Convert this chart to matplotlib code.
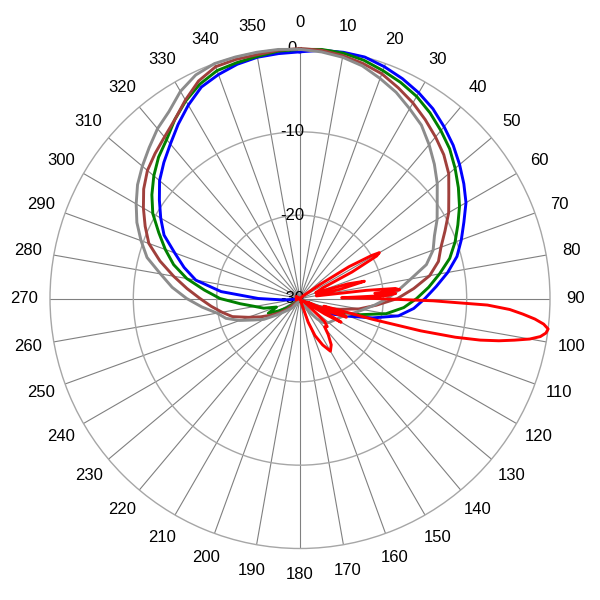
import numpy as np
import matplotlib
matplotlib.use("Agg")
import matplotlib.pyplot as plt
from matplotlib.transforms import offset_copy

plt.rcParams['font.family'] = ['Liberation Sans', 'DejaVu Sans']

# --------- pattern data (dB, angle in degrees clockwise from north) ---------

blue_deg = [0, 5, 10, 15, 20, 25, 30, 35, 40, 45, 50, 55, 60, 65, 70, 75, 80, 85,
            90, 95, 100, 105, 110, 115, 120, 130, 240, 260, 265, 270, 275, 280, 285,
            290, 295, 300, 305, 310, 315, 320, 325, 330, 335, 340, 345, 350, 355]
blue_db = [-0.4, -0.1, 0.0, 0.0, -0.4, -0.9, -1.5, -2.2, -3.1, -4.0, -5.0, -6.0, -7.0,
           -8.3, -9.4, -10.5, -12.0, -13.6, -15.0, -16.3, -18.0, -21.0, -23.8, -25.5,
           -27.0, -29.5, -30.0, -29.5, -28.0, -25.0, -20.5, -17.3, -15.6, -14.0, -12.0,
           -10.7, -9.4, -8.0, -6.9, -5.8, -4.5, -3.2, -2.0, -1.4, -0.9, -0.6, -0.5]

green_deg = [0, 5, 10, 15, 20, 25, 30, 35, 40, 45, 50, 55, 60, 65, 70, 75, 80, 85,
             90, 95, 100, 105, 110, 115, 120, 130, 225, 230, 235, 240, 245, 250, 255,
             260, 265, 270, 275, 280, 285, 290, 295, 300, 305, 310, 315, 320, 325,
             330, 335, 340, 345, 350, 355]
green_db = [-0.1, 0.0, -0.1, -0.4, -0.9, -1.4, -2.0, -2.8, -3.7, -4.6, -5.7, -6.8, -7.9,
            -9.1, -10.2, -11.4, -13.0, -14.5, -16.0, -17.5, -19.5, -22.5, -25.0, -27.0,
            -28.5, -29.5, -29.5, -29.0, -28.0, -27.0, -25.8, -27.0, -25.5, -24.5, -22.8,
            -20.4, -18.5, -16.2, -14.3, -12.8, -11.3, -9.6, -8.3, -7.1, -6.0, -5.1,
            -3.8, -2.6, -1.6, -0.9, -0.7, -0.5, -0.2]

brown_deg = [0, 5, 10, 15, 20, 25, 30, 35, 40, 45, 50, 55, 60, 65, 70, 75, 80, 85,
             90, 95, 100, 105, 110, 115, 120, 130, 220, 230, 235, 240, 245, 250, 255,
             260, 265, 270, 275, 280, 285, 290, 295, 300, 305, 310, 315, 320, 325,
             330, 335, 340, 345, 350, 355]
brown_db = [0.0, -0.1, -0.4, -0.8, -1.3, -2.1, -2.9, -3.8, -4.7, -5.6, -6.7, -8.2, -9.4,
            -10.8, -12.0, -12.8, -14.2, -16.3, -18.3, -20.8, -22.8, -25.0, -26.5, -28.0,
            -29.0, -29.8, -29.5, -28.0, -27.0, -26.0, -24.8, -23.4, -21.6, -20.5, -19.3,
            -18.0, -16.4, -14.6, -12.6, -10.7, -9.5, -8.3, -7.1, -6.1, -5.4, -4.7,
            -3.8, -2.5, -1.2, -0.4, -0.3, -0.3, -0.1]

gray_deg = [0, 5, 10, 15, 20, 25, 30, 35, 40, 45, 50, 55, 60, 65, 70, 75, 80, 85,
            90, 95, 100, 105, 110, 120, 130, 136, 140, 145, 150, 160, 200, 210, 220,
            230, 235, 240, 245, 250, 255, 260, 265, 270, 275, 280, 285, 290, 295,
            300, 305, 310, 315, 320, 325, 330, 335, 340, 345, 350, 355]
gray_db = [-0.1, -0.3, -0.6, -1.1, -1.9, -2.7, -3.7, -4.6, -5.9, -7.2, -8.5, -9.9, -11.0,
           -12.2, -13.0, -14.3, -16.5, -18.1, -19.5, -21.0, -22.3, -23.3, -24.2, -25.0,
           -25.5, -26.0, -26.8, -28.0, -29.0, -29.8, -29.8, -29.5, -28.5, -27.5, -26.5,
           -25.0, -23.9, -22.3, -20.8, -19.9, -18.2, -16.4, -14.6, -13.0, -11.0, -9.7,
           -8.4, -7.3, -6.2, -5.3, -4.4, -3.4, -2.6, -1.3, -0.4, 0.0, 0.0, 0.0, 0.0]

red_deg = [0, 30, 50, 55, 57, 59, 60, 61, 63, 65, 70, 73, 75, 77, 79, 81, 83, 84, 85,
           86, 87, 88, 89, 90, 91, 92, 93, 94, 95, 96, 97, 98, 99, 100, 101, 102, 103,
           104, 105, 106, 107, 108, 110, 112, 114, 116, 118, 120, 122, 126, 130, 133,
           136, 139, 142, 146, 150, 154, 158, 161, 164, 170, 200, 250, 300, 330]
red_db = [-30.0, -30.0, -29.5, -27.0, -23.0, -20.0, -19.0, -19.5, -23.0, -27.0, -28.0,
          -24.0, -22.0, -25.0, -28.0, -28.0, -22.0, -18.5, -18.0, -21.0, -18.5, -19.5,
          -25.0, -21.0, -14.0, -7.5, -4.8, -3.2, -1.7, -0.6, 0.0, -0.2, -0.8, -2.0,
          -3.8, -5.6, -7.8, -10.8, -15.0, -21.0, -26.0, -27.0, -24.5, -24.0, -26.0,
          -29.0, -27.0, -24.3, -26.5, -29.5, -29.0, -26.0, -25.3, -25.5, -24.5, -23.3,
          -22.7, -23.8, -25.2, -27.0, -29.5, -30.0, -30.0, -29.5, -29.5, -30.0]

series = [
    (blue_deg, blue_db, '#0000FF'),
    (green_deg, green_db, '#008000'),
    (brown_deg, brown_db, '#A0403C'),
    (gray_deg, gray_db, '#8C8C8C'),
    (red_deg, red_db, '#FF0000'),
]

angle_ticks = list(range(0, 360, 10))
r_ticks = [-30, -20, -10, 0]

# --------- figure ---------

fig = plt.figure(figsize=(6, 6), dpi=100)
ax = fig.add_axes([50/600, 51.5/600, 500/600, 500/600], projection='polar')
ax.set_theta_zero_location('N')
ax.set_theta_direction(-1)
ax.set_ylim(-30, 0)

ax.set_xticks(np.deg2rad(angle_ticks))
ax.set_xticklabels([])
ax.set_yticks([-20, -10])
ax.set_yticklabels([])
ax.xaxis.grid(True, color='#808080', lw=0.8)
ax.yaxis.grid(True, color='#A6A6A6', lw=1.0)
ax.spines['polar'].set_color('#A6A6A6')
ax.spines['polar'].set_linewidth(1.0)
ax.tick_params(length=0)

for deg, db, col in series:
    th = np.deg2rad(np.append(deg, deg[0]))
    rr = np.clip(np.append(db, db[0]), -30, 0)
    ax.plot(th, rr, color=col, lw=2.1, solid_joinstyle='round', clip_on=False,
            zorder=3)

# angle labels outside the circle
for a in angle_ticks:
    ax.text(np.deg2rad(a), 3.12, str(a), ha='center', va='center', fontsize=12,
            color='#000000')

# radial labels along the 0 deg spoke
lab_tr = offset_copy(ax.transData, fig=fig, x=-8, y=0, units='dots')
for r in r_ticks:
    ax.text(0, r, str(r), transform=lab_tr, ha='center', va='center',
            fontsize=12, color='#000000', zorder=2.5)

fig.savefig('out.png', dpi=100)
